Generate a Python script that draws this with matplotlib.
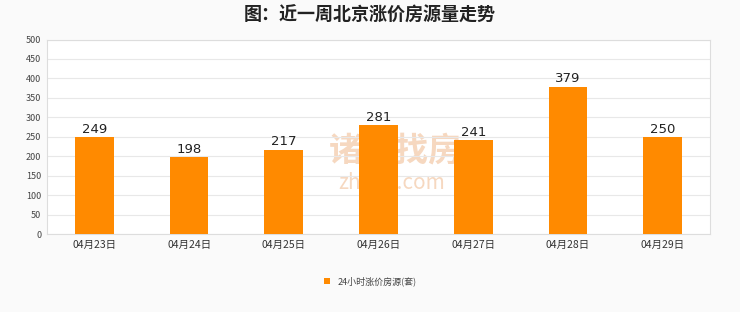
import matplotlib
matplotlib.use("Agg")
import matplotlib.pyplot as plt

plt.rcParams['font.family'] = ['Noto Sans CJK SC', 'DejaVu Sans']

categories = ["04月23日", "04月24日", "04月25日", "04月26日", "04月27日", "04月28日", "04月29日"]
values = [249, 198, 217, 281, 241, 379, 250]
series_name = "24小时涨价房源(套)"
title = "图：近一周北京涨价房源量走势"
yticks = [0, 50, 100, 150, 200, 250, 300, 350, 400, 450, 500]

fig = plt.figure(figsize=(7.4, 3.12), dpi=100)
fig.patch.set_facecolor("#fafafa")
ax = fig.add_axes([47/740, 1-234/312, (710-47)/740, (234-39.5)/312])
ax.set_facecolor("white")

x = list(range(len(categories)))
bars = ax.bar(x, values, width=0.41, color="#ff8a00", label=series_name, zorder=3)
for xi, v in zip(x, values):
    ax.text(xi, v + 3, str(v), ha="center", va="bottom", fontsize=9.5, color="#222222",
            family="DejaVu Sans", zorder=4)

ax.set_xlim(-0.5, len(categories) - 0.5)
ax.set_ylim(0, 500)
ax.set_yticks(yticks)
ax.set_yticklabels([str(t) for t in yticks], fontsize=6.5, color="#444444")
ax.set_xticks(x)
ax.set_xticklabels(categories, fontsize=7.5, color="#333333")
ax.tick_params(axis="both", length=0, pad=4)
ax.grid(axis="y", color="#e8e8e8", linewidth=0.8, zorder=0)
for s in ax.spines.values():
    s.set_color("#dddddd")
    s.set_linewidth(0.8)

# watermark (behind bars)
ax.text(0.525, 1-(152-39.5)/194.5, "诸葛找房", transform=ax.transAxes, ha="center", va="center",
        fontsize=24, color="#f6d8c0", fontweight="bold", zorder=1)
ax.text(0.52, 1-(183-39.5)/194.5, "zhuge.com", transform=ax.transAxes, ha="center", va="center",
        fontsize=15, color="#f6d8c0", zorder=1)

fig.text(0.5, 1-15/312, title, ha="center", va="center", fontsize=13, fontweight="bold", color="#222222")

leg = fig.legend(handles=[bars], labels=[series_name], loc="center", bbox_to_anchor=(0.5, 1-281/312),
                 frameon=False, fontsize=6.5, handlelength=0.7, handleheight=0.7, handletextpad=0.8)
for t in leg.get_texts():
    t.set_color("#444444")

fig.savefig("out.png", dpi=100, facecolor=fig.get_facecolor())
